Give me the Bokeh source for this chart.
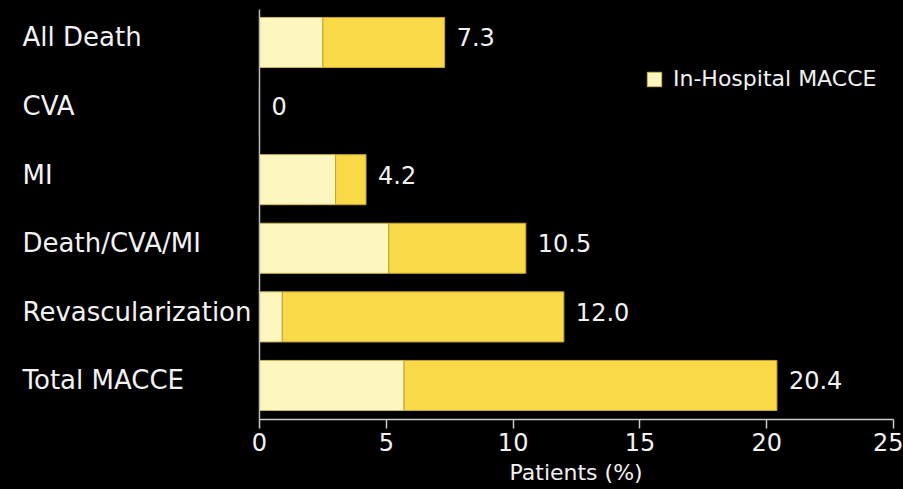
from bokeh.plotting import figure
from bokeh.models import Range1d, LinearAxis, FixedTicker, Legend, LegendItem, ColumnDataSource, Title
from bokeh.core.properties import value
from bokeh.embed import file_html
from bokeh.resources import INLINE

categories = ["All Death", "CVA", "MI", "Death/CVA/MI", "Revascularization", "Total MACCE"]
light_part = [2.5, 0.0, 3.0, 5.1, 0.9, 5.7]
totals = [7.3, 0.0, 4.2, 10.5, 12.0, 20.4]
total_labels = ["7.3", "0", "4.2", "10.5", "12.0", "20.4"]
x_ticks = [0, 5, 10, 15, 20, 25]
legend_text = "In-Hospital MACCE"
x_title = "Patients (%)"

FONT = "DejaVu Sans"
ypos = list(range(len(categories)))

X0, X1 = -10.21, 25.39
src = ColumnDataSource(dict(
    y=ypos, cat=categories, light=light_part, total=totals, lab=total_labels,
    zero=[0] * len(categories), labx=[X0 + 22 / 25.36] * len(categories),
))

p = figure(width=903, height=489, output_backend="svg", toolbar_location=None,
           x_range=Range1d(X0, X1), y_range=Range1d(5.525, -0.612),
           x_axis_location=None, y_axis_location=None,
           min_border_left=0, min_border_right=0, min_border_top=0, min_border_bottom=68,
           background_fill_color="black", border_fill_color="black")
p.outline_line_color = None
p.styles = {"background-color": "black"}
p.grid.visible = False

bar_h = 0.73
r_light = p.hbar(y="y", left="zero", right="light", height=bar_h, source=src,
                 fill_color="#FDF7BF", line_color="#C9B45A", line_width=1)
p.hbar(y="y", left="light", right="total", height=bar_h, source=src,
       fill_color="#F9D947", line_color="#C4A332", line_width=1)

p.text(x="labx", y="y", text="cat", source=src, text_color="#F2F2F2",
       text_font=value(FONT), text_font_size="26px", text_baseline="middle",
       text_align="left", y_offset=-5)
p.text(x="total", y="y", text="lab", source=src, text_color="#F2F2F2",
       text_font=value(FONT), text_font_size="24px", text_baseline="middle",
       text_align="left", x_offset=12, y_offset=-5)

# vertical axis line at x = 0 and horizontal axis rule from 0 to 25
p.segment(x0=[x_ticks[0]], x1=[x_ticks[0]], y0=[-0.48], y1=[5.496],
          line_color="#BBBBBB", line_width=1.5)
p.segment(x0=[x_ticks[0]], x1=[x_ticks[-1]], y0=[5.496], y1=[5.496],
          line_color="#CCCCCC", line_width=1.5)

ax = LinearAxis(ticker=FixedTicker(ticks=x_ticks))
ax.axis_line_color = None
ax.major_tick_line_color = "#CCCCCC"
ax.major_tick_line_width = 1.5
ax.major_tick_out = 7
ax.major_tick_in = 2
ax.minor_tick_line_color = None
ax.major_label_text_color = "#F2F2F2"
ax.major_label_text_font = FONT
ax.major_label_text_font_size = "24px"
ax.major_label_standoff = 4
p.add_layout(ax, "below")

t = Title(text=x_title, align="left", offset=509, text_color="#F2F2F2",
          text_font=FONT, text_font_size="22px", text_font_style="normal",
          standoff=8)
p.add_layout(t, "below")

legend = Legend(items=[LegendItem(label=legend_text, renderers=[r_light])],
                location=(645, 330), background_fill_alpha=0, border_line_alpha=0,
                label_text_color="#F2F2F2", label_text_font=FONT, label_text_font_size="22px",
                glyph_width=18, glyph_height=18, label_standoff=10, padding=0, margin=0)
p.add_layout(legend)

open("out.html", "w").write(file_html(p, INLINE))
